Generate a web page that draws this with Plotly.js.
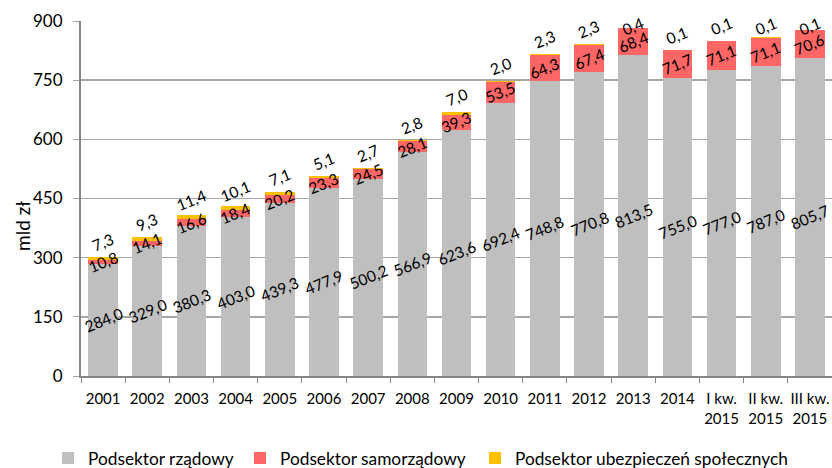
<!DOCTYPE html>
<html>
<head>
<meta charset="utf-8">
<script src="https://cdn.plot.ly/plotly-3.0.1.min.js"></script>
<style>
	html, body { margin: 0; padding: 0; background: #ffffff; }
	#plot { width: 832px; height: 468px; }
</style>
</head>
<body>
<div id="plot"></div>
<script>
const FONT = "Lato, 'Open Sans', sans-serif";

const categories = [
	"2001", "2002", "2003", "2004", "2005", "2006", "2007", "2008", "2009",
	"2010", "2011", "2012", "2013", "2014",
	"I kw. 2015", "II kw. 2015", "III kw. 2015",
];
const tickLabels = [
	"2001", "2002", "2003", "2004", "2005", "2006", "2007", "2008", "2009",
	"2010", "2011", "2012", "2013", "2014",
	"I kw.<br>2015", "II kw.<br>2015", "III kw.<br>2015",
];
const rzadowy = [
	284.0, 329.0, 380.3, 403.0, 439.3, 477.9, 500.2, 566.9, 623.6,
	692.4, 748.8, 770.8, 813.5, 755.0, 777.0, 787.0, 805.7,
];
const samorzadowy = [
	10.8, 14.1, 16.6, 18.4, 20.2, 23.3, 24.5, 28.1, 39.3,
	53.5, 64.3, 67.4, 68.4, 71.7, 71.1, 71.1, 70.6,
];
const ubezpieczen = [
	7.3, 9.3, 11.4, 10.1, 7.1, 5.1, 2.7, 2.8, 7.0,
	2.0, 2.3, 2.3, 0.4, 0.1, 0.1, 0.1, 0.1,
];
const seriesNames = [
	"Podsektor rządowy",
	"Podsektor samorządowy",
	"Podsektor ubezpieczeń społecznych",
];
const yTicks = [0, 150, 300, 450, 600, 750, 900];

const COLORS = ["#bfbfbf", "#ff6666", "#ffc000"];
const LEGENDS = ["legend", "legend2", "legend3"];
const LABEL_ANGLE = -22;

function fmt(v) {
	return v.toFixed(1).replace(".", ",");
}

const traces = [rzadowy, samorzadowy, ubezpieczen].map((values, i) => ({
	type: "bar",
	name: seriesNames[i],
	x: categories,
	y: values,
	marker: { color: COLORS[i] },
	legend: LEGENDS[i],
	hoverinfo: "none",
}));

// data labels, rotated like in the original
const labelFont = { family: FONT, size: 15.5, color: "#000000" };
const annotations = [];
categories.forEach((cat, i) => {
	const g = rzadowy[i];
	const r = samorzadowy[i];
	const total = g + r + ubezpieczen[i];
	annotations.push({
		x: i, y: g / 2, text: fmt(g),
		showarrow: false, textangle: LABEL_ANGLE, font: labelFont,
	});
	annotations.push({
		x: i, y: g + r / 2, text: fmt(r),
		showarrow: false, textangle: LABEL_ANGLE, font: labelFont,
	});
	// top labels sit above the stack, but stay inside the plot
	annotations.push({
		x: i, y: Math.min(total + 38, 888), text: fmt(ubezpieczen[i]),
		showarrow: false, textangle: LABEL_ANGLE, font: labelFont,
	});
});

annotations.push({
	xref: "paper", yref: "paper",
	x: -0.0786, y: 0.4225,
	xanchor: "center", yanchor: "middle",
	text: "mld zł",
	showarrow: false, textangle: -90,
	font: { family: FONT, size: 19, color: "#000000" },
});

// one legend per series so each entry sits where the original has it
const legendFont = { family: FONT, size: 17.3, color: "#000000" };
function legendBox(x) {
	return {
		orientation: "h",
		x: x,
		xanchor: "left",
		yref: "container",
		y: 0.021,
		yanchor: "middle",
		font: legendFont,
		itemwidth: 30,
		bgcolor: "rgba(0,0,0,0)",
		borderwidth: 0,
	};
}

let layout = {
	width: 832,
	height: 468,
	paper_bgcolor: "#ffffff",
	plot_bgcolor: "#ffffff",
	font: { family: FONT, size: 15, color: "#000000" },
	margin: { l: 81, r: 0, t: 21, b: 92 },
	barmode: "stack",
	bargap: 0.33,
	showlegend: true,
	legend: legendBox(-0.0439),
	legend2: legendBox(0.2117),
	legend3: legendBox(0.5246),
	xaxis: {
		type: "category",
		range: [-0.5, categories.length - 0.5],
		tickvals: categories,
		ticktext: tickLabels,
		tickangle: 0,
		automargin: false,
		showline: true,
		linecolor: "#868686",
		linewidth: 2,
		ticks: "outside",
		tickson: "boundaries",
		ticklen: 5,
		tickcolor: "#868686",
		tickfont: { family: FONT, size: 15, color: "#000000" },
		ticklabelstandoff: 8,
		showgrid: false,
		fixedrange: true,
	},
	yaxis: {
		range: [0, 900],
		tickvals: yTicks,
		ticktext: yTicks.map(String),
		automargin: false,
		showline: true,
		linecolor: "#868686",
		linewidth: 2,
		ticks: "outside",
		ticklen: 6,
		tickcolor: "#a6a6a6",
		gridcolor: "#a6a6a6",
		gridwidth: 1.5,
		zeroline: false,
		tickfont: { family: FONT, size: 17, color: "#000000" },
		ticklabelstandoff: 7,
		fixedrange: true,
	},
	annotations: annotations,
};

let config = {
	responsive: false,
	displayModeBar: false,
	staticPlot: true,
};

Plotly.newPlot("plot", traces, layout, config);
</script>
</body>
</html>
